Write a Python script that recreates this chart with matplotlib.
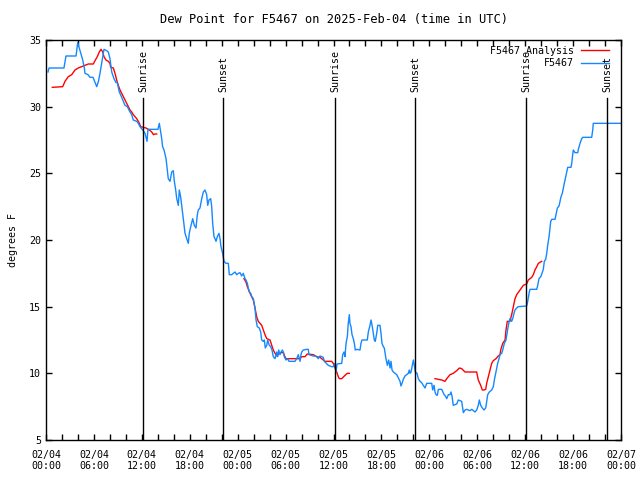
import numpy as np
import pandas as pd
import matplotlib
matplotlib.use('Agg')
import matplotlib.pyplot as plt
import matplotlib.dates as mdates

plt.rcParams['font.family'] = ['DejaVu Sans Mono']
plt.rcParams['font.size'] = 7.2

start = pd.Timestamp('2025-02-04 00:00')

# observed dew point (hours after 02/04 00:00 UTC, deg F)
obs_hours = [0.25, 0.38, 1.38, 2.25, 2.5, 3.76, 3.97, 4.26, 4.6, 4.8, 4.88, 5.26, 5.51, 5.89,
             6.35, 6.57, 6.76, 7.01, 7.26, 7.6, 7.8, 8.01, 8.23, 8.51, 8.77, 8.93, 9.18, 9.48,
             9.68, 9.89, 10.18, 10.52, 10.73, 10.93, 11.36, 11.56, 11.77, 12.11, 12.4, 12.65,
             12.77, 13.27, 14.02, 14.19, 14.49, 14.6, 14.78, 15.03, 15.19, 15.31, 15.53, 15.74,
             15.94, 16.07, 16.24, 16.37, 16.57, 16.69, 16.87, 16.99, 17.12, 17.28, 17.41, 17.62,
             17.82, 17.94, 18.12, 18.37, 18.57, 18.78, 18.95, 19.07, 19.28, 19.5, 19.7, 19.91,
             20.12, 20.25, 20.41, 20.62, 20.75, 20.87, 21.04, 21.16, 21.29, 21.45, 21.66, 21.79,
             21.91, 22.08, 22.29, 22.54, 22.83, 22.95, 23.25, 23.45, 23.67, 23.88, 24.08, 24.29,
             24.5, 24.7, 24.92, 25.04, 25.21, 25.33, 25.46, 25.63, 25.76, 25.96, 26.17, 26.3,
             26.46, 26.71, 26.88, 27.01, 27.21, 27.34, 27.46, 27.64, 27.76, 27.96, 28.14, 28.3,
             28.46, 28.68, 28.89, 29.01, 29.14, 29.3, 29.43, 29.59, 29.72, 29.84, 30.05, 30.27,
             30.43, 30.77, 31.18, 31.39, 31.59, 31.81, 31.93, 32.02, 32.22, 32.64, 32.84, 32.93,
             33.47, 33.68, 33.9, 34.1, 34.31, 34.72, 34.85, 35.35, 35.77, 35.97, 36.19, 36.31,
             36.44, 37.03, 37.15, 37.32, 37.44, 37.57, 37.73, 37.85, 37.98, 38.06, 38.19, 38.32,
             38.48, 38.61, 38.73, 38.94, 39.32, 39.44, 39.57, 39.94, 40.23, 40.36, 40.57, 40.7,
             40.86, 40.98, 41.11, 41.23, 41.41, 41.54, 41.82, 41.95, 42.07, 42.24, 42.36, 42.57,
             42.74, 42.91, 43.08, 43.2, 43.33, 43.49, 43.7, 43.92, 44.12, 44.33, 44.45, 44.61,
             44.74, 44.95, 45.17, 45.37, 45.49, 45.58, 45.71, 45.87, 46.0, 46.12, 46.24, 46.46,
             46.62, 46.83, 47.04, 47.24, 47.46, 47.67, 48.3, 48.42, 48.59, 48.71, 48.84, 49.0,
             49.13, 49.55, 49.85, 50.01, 50.18, 50.38, 50.59, 50.71, 50.84, 51.0, 51.43, 51.63,
             52.05, 52.26, 52.47, 52.68, 53.09, 53.31, 53.72, 53.93, 54.13, 54.26, 54.43, 54.64,
             54.84, 55.06, 55.18, 55.31, 55.51, 55.81, 56.01, 56.14, 56.31, 56.44, 56.56, 56.73,
             56.85, 57.06, 57.19, 57.39, 57.6, 57.76, 57.89, 58.1, 58.31, 58.44, 58.6, 58.73,
             58.94, 59.14, 60.19, 60.32, 60.52, 60.61, 61.45, 61.57, 61.73, 61.95, 62.11, 62.27,
             62.4, 62.57, 62.7, 62.82, 62.99, 63.11, 63.2, 63.33, 63.74, 63.86, 64.03, 64.24,
             64.36, 64.49, 64.65, 64.78, 64.9, 65.08, 65.2, 65.33, 65.74, 65.83, 65.95, 66.03,
             66.24, 66.58, 66.66, 66.87, 67.08, 67.21, 68.33, 68.46, 68.53, 72.0]
obs_dewpt = [32.6, 32.9, 32.9, 32.9, 33.8, 33.8, 34.8, 34.2, 33.5, 32.9, 32.5, 32.4, 32.2, 32.2,
             31.5, 31.9, 32.5, 33.4, 34.3, 34.2, 34.1, 33.6, 32.6, 32.1, 31.8, 31.8, 31.1, 30.7,
             30.4, 30.1, 30.0, 29.6, 29.4, 29.0, 28.9, 28.75, 28.5, 28.25, 28.0, 27.4,
             28.3, 28.3, 28.3, 28.75, 27.6, 27.0, 26.75, 26.1, 25.25, 24.6, 24.4, 25.1,
             25.2, 24.4, 23.75, 23.1, 22.6, 23.75, 23.2, 22.6, 22.0, 21.1, 20.5, 20.1,
             19.75, 20.5, 21.0, 21.6, 21.1, 20.9, 21.9, 22.25, 22.4, 23.1, 23.6, 23.75,
             23.4, 22.6, 23.0, 23.1, 22.5, 21.25, 20.25, 20.1, 19.9, 20.25, 20.5, 20.1,
             19.5, 19.1, 18.4, 18.25, 18.25, 17.4, 17.4, 17.5, 17.6, 17.4, 17.5, 17.55,
             17.3, 17.5, 17.1, 17.0, 16.75, 16.4, 16.1, 16.0, 15.75, 15.6, 14.9, 14.0,
             13.5, 13.4, 13.1, 12.5, 12.4, 12.5, 11.9, 12.1, 12.5, 12.1, 12.0, 11.75,
             11.25, 11.1, 11.6, 11.25, 11.75, 11.4, 11.6, 11.75, 11.6, 11.25, 11.0, 11.1,
             10.9, 10.9, 10.9, 11.1, 11.4, 10.9, 11.4, 11.6, 11.75, 11.8, 11.8, 11.4,
             11.3, 11.3, 11.25, 11.1, 11.3, 11.2, 10.9, 10.6, 10.5, 10.5, 10.75, 10.1,
             10.7, 10.75, 11.4, 11.6, 11.25, 12.25, 12.75, 13.75, 14.4, 13.75, 13.5, 12.9,
             12.6, 12.25, 11.75, 11.8, 11.75, 12.25, 12.5, 12.5, 12.5, 13.1, 13.6, 14.0,
             13.5, 13.0, 12.5, 12.4, 13.0, 13.6, 13.6, 13.0, 12.25, 12.0, 11.9, 11.1,
             10.6, 11.0, 10.4, 10.9, 10.25, 10.1, 10.0, 9.9, 9.65, 9.4, 9.05, 9.3,
             9.55, 9.8, 9.9, 10.0, 10.25, 10.0, 10.1, 10.6, 11.0, 10.6, 10.1, 10.0,
             9.6, 9.4, 9.3, 9.1, 8.9, 9.25, 9.25, 8.75, 9.1, 8.6, 8.4, 8.35,
             8.8, 8.8, 8.4, 8.3, 8.1, 8.4, 8.4, 8.6, 8.3, 7.6, 7.7, 8.0,
             7.9, 7.05, 7.25, 7.3, 7.2, 7.3, 7.1, 7.25, 7.6, 8.0, 7.6, 7.4,
             7.25, 7.4, 7.9, 8.4, 8.6, 8.75, 9.0, 9.5, 10.0, 10.4, 10.75, 11.1,
             11.4, 11.5, 11.75, 12.25, 12.5, 13.1, 13.6, 14.1, 13.9, 14.1, 14.5, 14.75,
             14.9, 15.0, 15.05, 15.4, 16.1, 16.3, 16.3, 16.6, 17.1, 17.25, 17.5, 17.8,
             18.4, 18.55, 19.0, 19.6, 20.25, 20.9, 21.4, 21.55, 21.55, 21.9, 22.4, 22.55,
             22.9, 23.25, 23.5, 23.9, 24.25, 24.75, 25.1, 25.45, 25.45, 25.75, 26.4, 26.75,
             26.55, 26.55, 26.8, 27.25, 27.6, 27.7, 27.7, 28.25, 28.75, 28.75]

# analysis dew point (NaN = gap)
ana_hours = [0.79, 2.09, 2.38, 2.79, 3.22, 3.63, 4.04, 4.47, 4.88, 5.3, 5.92, 6.14, 6.42, 6.67,
             6.89, 7.1, 7.26, 7.51, 7.8, 8.01, 8.1, 8.43, 8.64, 8.85, 9.05, 9.27, 9.48, 9.68,
             9.89, 10.1, 10.31, 10.52, 10.73, 10.93, 11.36, 11.65, 11.86, 12.18, 12.52, 12.94,
             13.24, 13.45, 13.66, 13.86, 19.0,
             24.79, 25.04, 25.21, 25.38, 25.55, 25.76, 25.96, 26.17, 26.38, 26.58, 26.8, 27.01,
             27.21, 27.42, 27.64, 28.05, 28.27, 28.46, 28.68, 28.89, 29.3, 29.72, 29.84, 30.05,
             31.81, 32.02, 32.43, 32.72, 33.47, 33.9, 34.31, 34.72, 34.94, 35.77, 35.97, 36.19,
             36.4, 36.6, 36.73, 37.03, 37.44, 37.73, 37.98, 43.0,
             48.71, 49.13, 49.55, 49.96, 50.18, 50.38, 50.59, 51.0, 51.43, 51.76, 52.05, 52.47,
             53.93, 54.13, 54.43, 54.64, 54.84, 55.06, 55.18, 55.39, 55.6, 55.81, 56.01, 56.35,
             56.64, 56.85, 56.94, 57.19, 57.48, 57.6, 57.76, 58.1, 58.31, 58.52, 58.73, 58.94,
             59.35, 59.77, 60.19, 60.39, 60.82, 61.02, 61.23, 61.45, 61.65, 62.07]
ana_dewpt = [31.45, 31.5, 31.9, 32.25, 32.4, 32.75, 32.9, 33.0, 33.1, 33.2, 33.2, 33.45, 33.75, 34.1,
             34.3, 34.1, 33.75, 33.5, 33.4, 33.25, 32.95, 32.9, 32.5, 32.0, 31.6, 31.25, 31.0, 30.75,
             30.5, 30.25, 30.0, 29.75, 29.6, 29.4, 29.1, 28.8, 28.5, 28.45, 28.4, 28.25,
             28.1, 27.9, 27.95, 27.95, np.nan,
             17.1, 16.85, 16.5, 16.25, 16.0, 15.75, 15.5, 14.9, 14.25, 13.9, 13.75, 13.6,
             13.25, 12.9, 12.6, 12.5, 12.1, 11.75, 11.5, 11.3, 11.55, 11.55, 11.35, 11.1,
             11.1, 11.25, 11.25, 11.45, 11.4, 11.25, 11.2, 11.0, 10.9, 10.9, 10.75, 10.4,
             10.1, 9.75, 9.6, 9.6, 9.85, 10.0, 10.0, np.nan,
             9.6, 9.55, 9.5, 9.4, 9.6, 9.75, 9.9, 10.0, 10.2, 10.4, 10.35, 10.1,
             10.1, 9.5, 9.1, 8.75, 8.75, 8.8, 9.25, 9.75, 10.25, 10.75, 10.95, 11.1,
             11.3, 11.4, 11.75, 12.25, 12.5, 13.25, 13.9, 13.9, 14.4, 15.0, 15.6, 15.9,
             16.25, 16.6, 16.7, 17.0, 17.2, 17.4, 17.75, 18.0, 18.25, 18.4]

sun_hours = [12.2, 22.2, 36.25, 46.25, 60.15, 70.3]
sun_labels = ['Sunrise', 'Sunset', 'Sunrise', 'Sunset', 'Sunrise', 'Sunset']

obs_t = start + pd.to_timedelta(obs_hours, unit='h')
ana_t = start + pd.to_timedelta(ana_hours, unit='h')
sun_t = start + pd.to_timedelta(sun_hours, unit='h')

fig = plt.figure(figsize=(6.4, 4.8), dpi=100)
ax = fig.add_axes([46 / 640, 40 / 480, 575 / 640, 400 / 480])

ax.plot(ana_t, ana_dewpt, color='red', lw=1.0, label='F5467 Analysis')
ax.plot(obs_t, obs_dewpt, color='#1488ff', lw=1.0, label='F5467')

# sunrise / sunset markers
for t, lab in zip(sun_t, sun_labels):
    ax.plot([t, t], [0, 0.855], color='black', lw=1.0,
            transform=ax.get_xaxis_transform())
    ax.text(t, 0.87, lab, rotation=90, ha='center', va='bottom',
            transform=ax.get_xaxis_transform())

ax.set_xlim(start, start + pd.Timedelta(hours=72))
ax.set_ylim(5, 35)
ax.set_yticks(range(5, 36, 5))
ax.xaxis.set_major_locator(mdates.HourLocator(byhour=[0, 6, 12, 18]))
ax.xaxis.set_minor_locator(mdates.HourLocator(byhour=range(0, 24, 2)))
ax.xaxis.set_major_formatter(mdates.DateFormatter('%m/%d\n%H:%M'))
ax.tick_params(which='both', direction='in', top=True, right=True, length=4, width=1)
ax.tick_params(axis='x', pad=7)
for s in ax.spines.values():
    s.set_linewidth(1.0)

ax.set_ylabel('degrees F', labelpad=8)
ax.set_title('Dew Point for F5467 on 2025-Feb-04 (time in UTC)', pad=12)

leg = ax.legend(loc='upper right', bbox_to_anchor=(1 - 6 / 575, 1.0), frameon=False,
                markerfirst=False, handlelength=2.8, handletextpad=0.7,
                labelspacing=0.25, borderaxespad=0.2, borderpad=0.4)

fig.savefig('out.png', dpi=100)
